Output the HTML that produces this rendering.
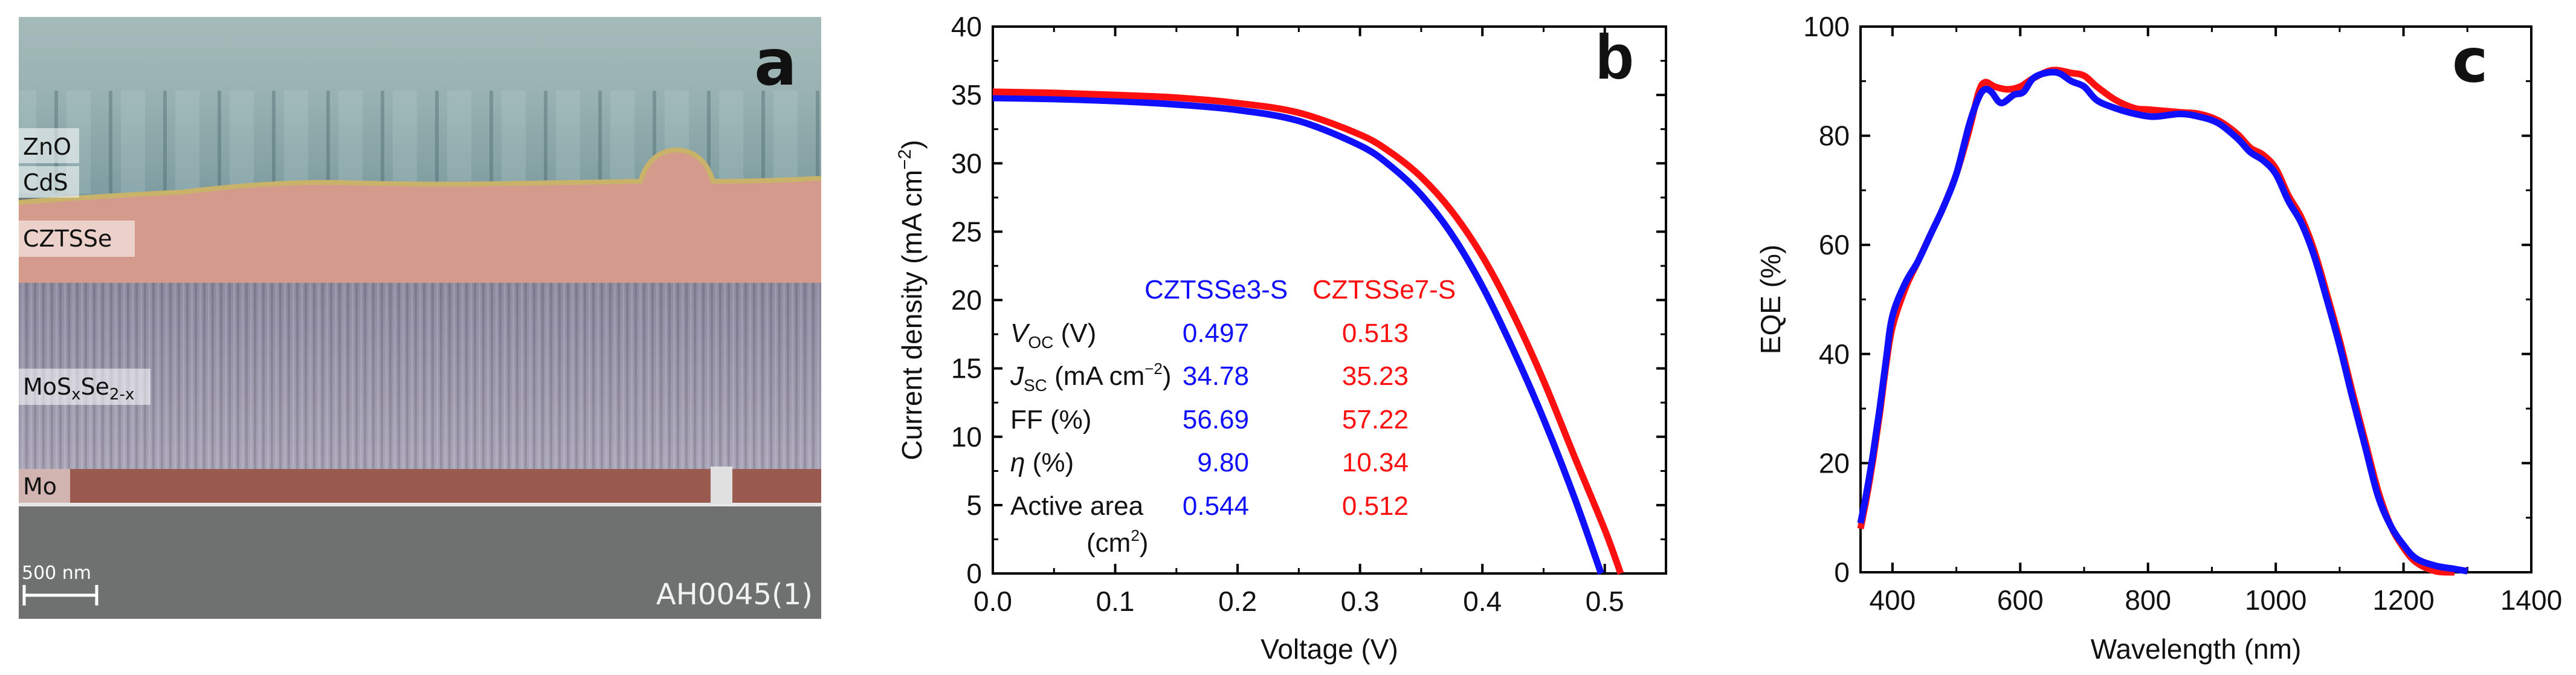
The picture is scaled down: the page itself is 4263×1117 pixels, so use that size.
<!DOCTYPE html>
<html><head><meta charset="utf-8"><style>
html,body{margin:0;padding:0;background:#fff;}
svg{display:block;font-family:"Liberation Sans","DejaVu Sans",sans-serif;}
</style></head><body>
<svg id="fig" width="4263" height="1117" viewBox="0 0 4263 1117" xmlns="http://www.w3.org/2000/svg">
<defs>
<linearGradient id="zno" x1="0" y1="0" x2="0" y2="1">
<stop offset="0" stop-color="#a5bbba"/><stop offset="0.4" stop-color="#9ab2b2"/><stop offset="1" stop-color="#7d9ca0"/></linearGradient>
<linearGradient id="mos" x1="0" y1="0" x2="0" y2="1">
<stop offset="0" stop-color="#8e8aa0"/><stop offset="1" stop-color="#a9a5b8"/></linearGradient>
<pattern id="stripes" width="14" height="40" patternUnits="userSpaceOnUse">
<rect width="14" height="40" fill="none"/><rect x="0" width="4" height="40" fill="#000" opacity="0.12"/><rect x="8" width="3" height="40" fill="#fff" opacity="0.12"/></pattern>
<pattern id="cols" width="90" height="300" patternUnits="userSpaceOnUse">
<rect width="90" height="300" fill="none"/><rect x="0" width="6" height="300" fill="#3d5a60" opacity="0.35"/><rect x="20" width="40" height="300" fill="#c8dcdc" opacity="0.18"/></pattern>
</defs>
<g>
<rect x="31" y="28" width="1328" height="996" fill="#6f7171"/>
<rect x="31" y="28" width="1328" height="300" fill="url(#zno)"/>
<rect x="31" y="150" width="1328" height="170" fill="url(#cols)"/>
<path d="M31 335 Q150 325 300 318 Q450 300 560 302 Q700 306 820 304 Q950 302 1060 300 Q1075 250 1120 248 Q1165 250 1180 300 Q1270 300 1359 295 L1359 470 L31 470 Z" fill="#d49a8c"/>
<path d="M31 335 Q150 325 300 318 Q450 300 560 302 Q700 306 820 304 Q950 302 1060 300 Q1075 250 1120 248 Q1165 250 1180 300 Q1270 300 1359 295" fill="none" stroke="#c9b36a" stroke-width="8"/>
<rect x="31" y="468" width="1328" height="308" fill="url(#mos)"/>
<rect x="31" y="468" width="1328" height="308" fill="url(#stripes)"/>
<rect x="31" y="776" width="1328" height="56" fill="#9a5a50"/>
<rect x="31" y="832" width="1328" height="6" fill="#e8e8e8"/>
<rect x="1176" y="772" width="36" height="62" fill="#e0e0e0"/>
</g>
<g font-family="'DejaVu Sans',sans-serif" font-size="38" fill="#111">
<rect x="31" y="212" width="100" height="58" fill="#fff" opacity="0.55"/>
<text x="38" y="256">ZnO</text>
<rect x="31" y="275" width="100" height="52" fill="#fff" opacity="0.55"/>
<text x="38" y="315">CdS</text>
<rect x="31" y="365" width="192" height="60" fill="#fff" opacity="0.55"/>
<text x="38" y="408">CZTSSe</text>
<rect x="31" y="610" width="218" height="60" fill="#fff" opacity="0.55"/>
<text x="38" y="653">MoS<tspan font-size="26" dy="8">x</tspan><tspan dy="-8">Se</tspan><tspan font-size="26" dy="8">2-x</tspan></text>
<rect x="31" y="776" width="85" height="56" fill="#fff" opacity="0.55"/>
<text x="38" y="818">Mo</text>
<text x="36" y="958" font-size="30" fill="#fff">500 nm</text>
<path d="M40 985 H160 M40 968 V1002 M160 968 V1002" stroke="#fff" stroke-width="5" fill="none"/>
<text x="1345" y="1000" font-size="48" fill="#f2f2f2" text-anchor="end">AH0045(1)</text>
<text x="1248" y="140" font-size="105" font-weight="bold" fill="#111">a</text>
</g>
<g id="pb"></g>
<g id="pc"></g>
</svg>
<script>
// Panel b data
const ivVoltageBlue = [0,0.05,0.1,0.15,0.2,0.25,0.3,0.325,0.35,0.375,0.4,0.425,0.45,0.475,0.497];
const ivCurrentBlue = [34.78,34.7,34.55,34.3,33.9,33.1,31.3,29.8,27.7,24.8,21.0,16.4,11.3,5.6,0];
const ivVoltageRed = [0,0.05,0.1,0.15,0.2,0.25,0.3,0.325,0.35,0.375,0.4,0.425,0.45,0.475,0.5,0.513];
const ivCurrentRed = [35.23,35.15,35.0,34.8,34.4,33.7,32.1,30.8,29.0,26.5,23.2,19.0,14.1,8.6,3.2,0];
const ivXTicks = ["0.0","0.1","0.2","0.3","0.4","0.5"];
const ivYTicks = ["0","5","10","15","20","25","30","35","40"];
// Panel c data
const eqeWlBlue = [350,360,370,380,390,400,420,440,460,480,500,520,535,545,555,570,590,605,620,640,660,680,700,720,750,780,810,850,880,910,940,960,980,1000,1020,1040,1060,1080,1100,1120,1140,1160,1180,1200,1220,1250,1280,1300];
const eqeBlue = [9,15,22,30,39,47,53,57,62,67,73,82,87,88.5,88,86,87.5,88,90.5,91.5,91.5,90,89,86.5,85,84,83.5,84,83.5,82.3,79.5,77,75.5,73,68,64,58,50,41.5,32,23,14,8.5,5,2.5,1.2,0.6,0.2];
const eqeWlRed = [350,360,370,380,390,400,420,440,460,480,500,520,535,545,560,580,600,620,650,680,700,720,750,780,800,850,880,910,940,960,980,1000,1020,1040,1060,1080,1100,1120,1140,1160,1180,1200,1220,1250,1280];
const eqeRed = [8,14,21,29,38,45,52,57,62,67,73,81,88,89.8,89,88.5,89,90.5,92,91.5,91,89,86.5,85,84.8,84.3,84,82.8,80.3,77.8,76.5,74,69,65,59,51,42.5,33,24,15,8.5,4.5,1.8,0.2,0];
const eqeXTicks = ["400","600","800","1000","1200","1400"];
const eqeYTicks = ["0","20","40","60","80","100"];

const NS="http://www.w3.org/2000/svg";
function mk(parent,tag,attrs){const e=document.createElementNS(NS,tag);for(const k in attrs)e.setAttribute(k,attrs[k]);parent.appendChild(e);return e;}
function smoothPath(pts){let d="M"+pts[0][0]+" "+pts[0][1];for(let i=0;i<pts.length-1;i++){const p0=pts[Math.max(0,i-1)],p1=pts[i],p2=pts[i+1],p3=pts[Math.min(pts.length-1,i+2)];const c1=[p1[0]+(p2[0]-p0[0])/6,p1[1]+(p2[1]-p0[1])/6],c2=[p2[0]-(p3[0]-p1[0])/6,p2[1]-(p3[1]-p1[1])/6];d+=" C"+c1[0]+" "+c1[1]+" "+c2[0]+" "+c2[1]+" "+p2[0]+" "+p2[1];}return d;}

function axes(g,L,R,T,B,xs,ys,xTicks,yTicks,xMinor,yMinor){
  const frame=mk(g,'rect',{x:L,y:T,width:R-L,height:B-T,fill:'none',stroke:'#000','stroke-width':4});
  
  
  xTicks.forEach(t=>{const v=parseFloat(t),x=xs(v);
    mk(g,'path',{d:`M${x} ${B} v-16 M${x} ${T} v16`,stroke:'#000','stroke-width':4});
    const tx=mk(g,'text',{x:x,y:B+62,'font-size':46,'text-anchor':'middle',fill:'#111'});tx.textContent=t;
    
    });
  xMinor.forEach(v=>{const x=xs(v);mk(g,'path',{d:`M${x} ${B} v-9 M${x} ${T} v9`,stroke:'#000','stroke-width':3});});
  yTicks.forEach(t=>{const v=parseFloat(t),y=ys(v);
    mk(g,'path',{d:`M${L} ${y} h16 M${R} ${y} h-16`,stroke:'#000','stroke-width':4});
    const tx=mk(g,'text',{x:L-18,y:y+16,'font-size':46,'text-anchor':'end',fill:'#111'});tx.textContent=t;
    
    });
  yMinor.forEach(v=>{const y=ys(v);mk(g,'path',{d:`M${L} ${y} h9 M${R} ${y} h-9`,stroke:'#000','stroke-width':3});});
}

// Panel b
(function(){
  const g=document.getElementById('pb');
  const L=1643,R=2757,T=44,B=949;
  const xs=v=>L+(v-0)/(0.55)*(R-L), ys=v=>B-(v/40)*(B-T);
  const xMinor=[],yMinor=[];for(let v=0.05;v<0.55;v+=0.1)xMinor.push(v);for(let v=2.5;v<40;v+=5)yMinor.push(v);
  axes(g,L,R,T,B,xs,ys,ivXTicks,ivYTicks,xMinor,yMinor);
  const pb=mk(g,'path',{d:smoothPath(ivVoltageBlue.map((v,i)=>[xs(v),ys(ivCurrentBlue[i])])),fill:'none',stroke:'#1010ff','stroke-width':11});
  
  
  const pr=mk(g,'path',{d:smoothPath(ivVoltageRed.map((v,i)=>[xs(v),ys(ivCurrentRed[i])])),fill:'none',stroke:'#ff1010','stroke-width':11});
  
  
  const xt=mk(g,'text',{x:(L+R)/2,y:1090,'font-size':46,'text-anchor':'middle',fill:'#111'});xt.textContent='Voltage (V)';
  
  
  const yt=mk(g,'text',{x:0,y:0,'font-size':46,'text-anchor':'middle',fill:'#111',transform:`translate(1525 ${(T+B)/2}) rotate(-90)`});
  yt.innerHTML='Current density (mA cm<tspan font-size="30" dy="-18">−2</tspan><tspan dy="18">)</tspan>';
  
  
  const bl=mk(g,'text',{x:2640,y:130,'font-size':105,'font-weight':'bold',fill:'#111'});bl.textContent='b';
  
  
  const tbl=mk(g,'g',{'font-size':44});
  
  
  tbl.innerHTML=
  '<text x="1894" y="494" fill="#1010ff">CZTSSe3-S</text><text x="2172" y="494" fill="#ff1010">CZTSSe7-S</text>'+
  '<text x="1672" y="566" fill="#111"><tspan font-style="italic">V</tspan><tspan font-size="28" dy="10">OC</tspan><tspan dy="-10"> (V)</tspan></text>'+
  '<text x="1672" y="637" fill="#111"><tspan font-style="italic">J</tspan><tspan font-size="28" dy="10">SC</tspan><tspan dy="-10"> (mA cm</tspan><tspan font-size="26" dy="-18">−2</tspan><tspan dy="18">)</tspan></text>'+
  '<text x="1672" y="709" fill="#111">FF (%)</text>'+
  '<text x="1672" y="780" fill="#111"><tspan font-style="italic">η</tspan> (%)</text>'+
  '<text x="1672" y="852" fill="#111">Active area</text>'+
  '<text x="1798" y="913" fill="#111">(cm<tspan font-size="26" dy="-18">2</tspan><tspan dy="18">)</tspan></text>'+
  ['0.497','34.78','56.69','9.80','0.544'].map((t,i)=>`<text x="2067" y="${[566,637,709,780,852][i]}" text-anchor="end" fill="#1010ff">${t}</text>`).join('')+
  ['0.513','35.23','57.22','10.34','0.512'].map((t,i)=>`<text x="2331" y="${[566,637,709,780,852][i]}" text-anchor="end" fill="#ff1010">${t}</text>`).join('');
})();

// Panel c
(function(){
  const g=document.getElementById('pc');
  const L=3079,R=4189,T=44,B=947;
  const xs=v=>L+(v-350)/1050*(R-L), ys=v=>B-(v/100)*(B-T);
  const xMinor=[],yMinor=[];for(let v=500;v<1400;v+=200)xMinor.push(v);for(let v=10;v<100;v+=20)yMinor.push(v);
  axes(g,L,R,T,B,xs,ys,eqeXTicks,eqeYTicks,xMinor,yMinor);
  const pr=mk(g,'path',{d:smoothPath(eqeWlRed.map((v,i)=>[xs(v),ys(eqeRed[i])])),fill:'none',stroke:'#ff1010','stroke-width':11});
  
  
  const pb=mk(g,'path',{d:smoothPath(eqeWlBlue.map((v,i)=>[xs(v),ys(eqeBlue[i])])),fill:'none',stroke:'#1010ff','stroke-width':11});
  
  
  const xt=mk(g,'text',{x:(L+R)/2,y:1090,'font-size':46,'text-anchor':'middle',fill:'#111'});xt.textContent='Wavelength (nm)';
  
  
  const yt=mk(g,'text',{x:0,y:0,'font-size':46,'text-anchor':'middle',fill:'#111',transform:`translate(2946 ${(T+B)/2}) rotate(-90)`});yt.textContent='EQE (%)';
  
  
  const cl=mk(g,'text',{x:4058,y:135,'font-size':100,'font-weight':'bold','font-family':"'DejaVu Sans',sans-serif",fill:'#111'});cl.textContent='c';
  
  
})();
</script>
</body></html>
